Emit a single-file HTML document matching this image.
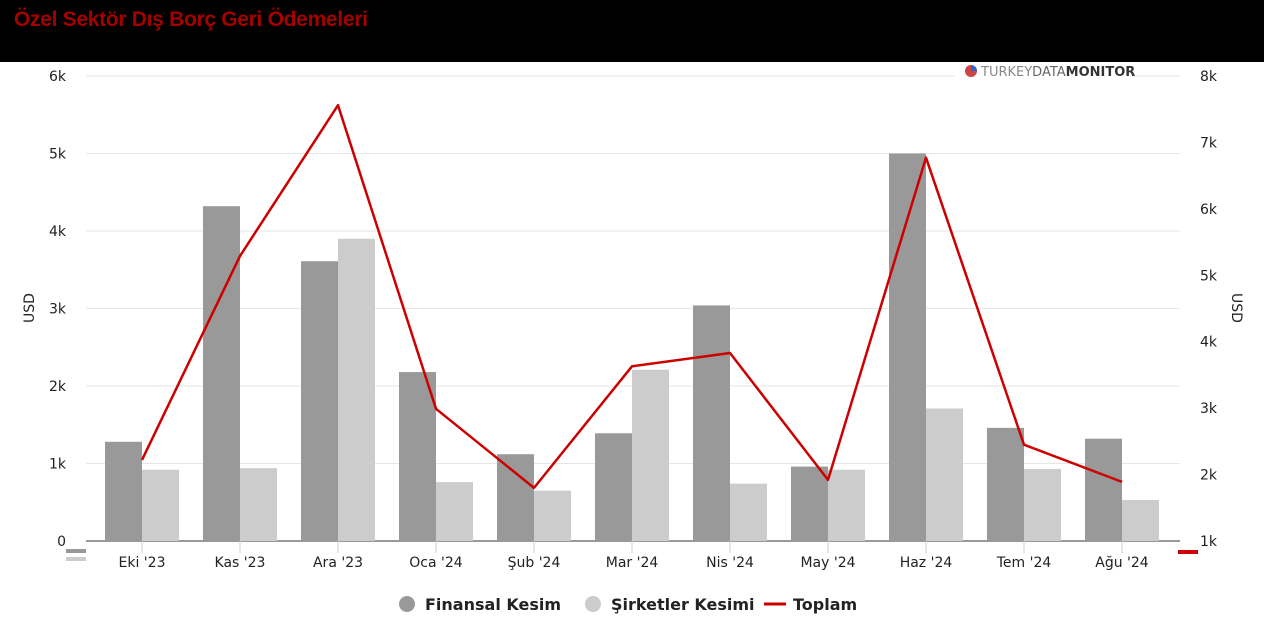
<!DOCTYPE html>
<html><head><meta charset="utf-8">
<style>
body{margin:0;width:1264px;height:641px;background:#fff;overflow:hidden;font-family:"Liberation Sans","DejaVu Sans",sans-serif}
#hdr{position:absolute;left:0;top:0;width:1264px;height:62px;background:#000}
#title{position:absolute;left:14px;top:8px;color:#a50000;font-weight:bold;font-size:21px;letter-spacing:-0.3px}
svg{position:absolute;left:0;top:0}
text{font-family:"DejaVu Sans","Liberation Sans",sans-serif}
</style></head><body>
<div id="hdr"><div id="title">Özel Sektör Dış Borç Geri Ödemeleri</div></div>
<svg id="chart" width="1264" height="641"></svg>
<script>
const categories=["Eki '23","Kas '23","Ara '23","Oca '24","Şub '24","Mar '24","Nis '24","May '24","Haz '24","Tem '24","Ağu '24"];
const finansal=[1280,4320,3610,2180,1120,1390,3040,960,5000,1460,1320];
const sirketler=[920,940,3900,760,650,2210,740,920,1710,930,530];
const toplam=[2220,5290,7560,2990,1800,3630,3830,1920,6770,2450,1890];
const leftTicks=[0,1000,2000,3000,4000,5000,6000];
const leftLabels=["0","1k","2k","3k","4k","5k","6k"];
const rightTicks=[1000,2000,3000,4000,5000,6000,7000,8000];
const rightLabels=["1k","2k","3k","4k","5k","6k","7k","8k"];
const NS="http://www.w3.org/2000/svg";
const svg=document.getElementById('chart');
const x0=93,cw=98,yB=541,yT=76;
const yL=v=>yB-(v/6000)*(yB-yT);
const yR=v=>yB-((v-1000)/7000)*(yB-yT);
const xc=i=>x0+cw*(i+0.5);
function mk(tag,attrs,txt){const e=document.createElementNS(NS,tag);for(const k in attrs)e.setAttribute(k,attrs[k]);if(txt!==undefined)e.textContent=txt;svg.appendChild(e);return e;}
leftTicks.forEach((t,i)=>{
 const g=mk('line',{x1:86,x2:1180,y1:yL(t),y2:yL(t),stroke:i==0?'#333':'#e6e6e6','stroke-width':1});
 
 
 const l=mk('text',{x:66,y:yL(t)+5,'text-anchor':'end','font-size':14,fill:'#222'},leftLabels[i]);
 
 
});
rightTicks.forEach((t,i)=>{
 const l=mk('text',{x:1200,y:yR(t)+5,'font-size':14,fill:'#222'},rightLabels[i]);
 
 
});
categories.forEach((c,i)=>{
 const b1=mk('rect',{x:xc(i)-37,y:yL(finansal[i]),width:37,height:yB-yL(finansal[i]),fill:'#999'});
 
 
 const b2=mk('rect',{x:xc(i),y:yL(sirketler[i]),width:37,height:yB-yL(sirketler[i]),fill:'#ccc'});
 
 
 const tk=mk('line',{x1:xc(i),x2:xc(i),y1:yB,y2:yB+12,stroke:'#ccc'});
 
 
 const l=mk('text',{x:xc(i),y:567,'text-anchor':'middle','font-size':14,fill:'#222'},c);
 
 
});
const pts=toplam.map((v,i)=>xc(i)+','+yR(v)).join(' ');
const pl=mk('polyline',{points:pts,fill:'none',stroke:'#c00','stroke-width':2.5,'stroke-linejoin':'round'});


const ya=mk('text',{x:34,y:308,'text-anchor':'middle','font-size':14,fill:'#222',transform:'rotate(-90 34 308)'},'USD');


const yb=mk('text',{x:1232,y:308,'text-anchor':'middle','font-size':14,fill:'#222',transform:'rotate(90 1232 308)'},'USD');


const m1=mk('rect',{x:66,y:549,width:20,height:4,fill:'#999'});


const m2=mk('rect',{x:66,y:557,width:20,height:4,fill:'#ccc'});


const m3=mk('rect',{x:1178,y:550,width:20,height:4,fill:'#c00'});


// logo
const lw=mk('rect',{x:955,y:62,width:175,height:22,fill:'#fff'});


const lc=mk('circle',{cx:971,cy:71,r:6,fill:'#c44'});


const lc2=mk('path',{d:'M971 71 L971 65 A6 6 0 0 1 977 71 Z',fill:'#36c'});


const lt=mk('text',{x:981,y:76,'font-size':13,fill:'#555','font-family':'Liberation Sans'});


lt.innerHTML='<tspan fill="#888">TURKEY</tspan><tspan fill="#666">DATA</tspan><tspan font-weight="bold" fill="#333">MONITOR</tspan>';
// legend
const leg=[{x:407,t:'Finansal Kesim',c:'#999',k:'c'},{x:593,t:'Şirketler Kesimi',c:'#ccc',k:'c'},{x:775,t:'Toplam',c:'#c00',k:'l'}];
leg.forEach(e=>{
 if(e.k=='c'){const d=mk('circle',{cx:e.x,cy:604,r:8,fill:e.c});}
 else{const d=mk('line',{x1:e.x-11,x2:e.x+11,y1:604,y2:604,stroke:e.c,'stroke-width':3});}
 const t=mk('text',{x:e.x+18,y:610,'font-size':16,'font-weight':'bold',fill:'#222'},e.t);
 
 
});
</script>
</body></html>
